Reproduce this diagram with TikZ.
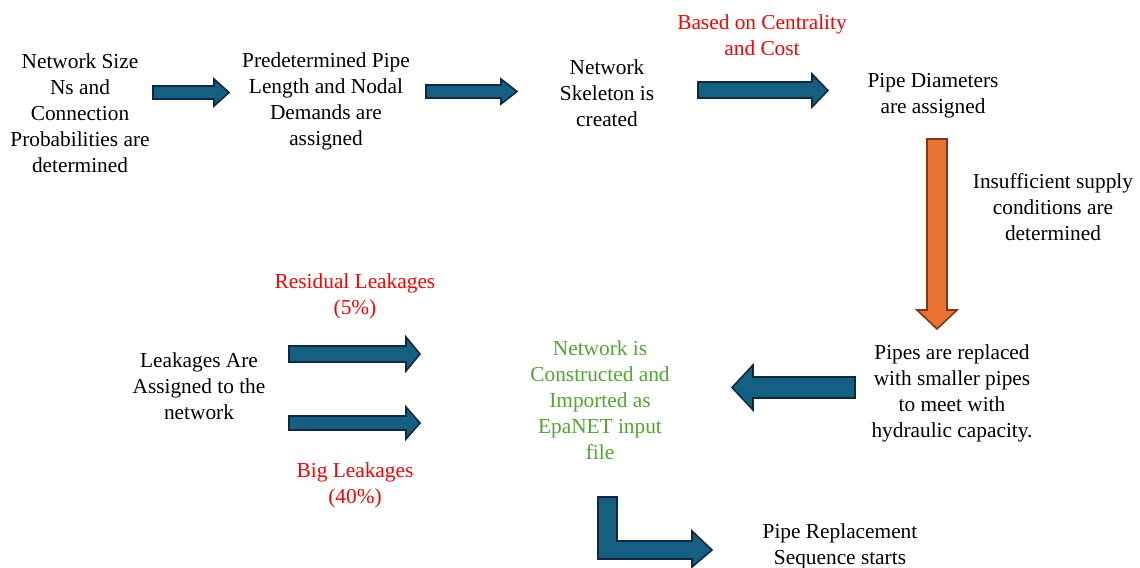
\documentclass[tikz,border=0pt]{standalone}
\usepackage{fontspec}
\setmainfont{Liberation Serif}
\definecolor{arrowblue}{HTML}{156082}
\definecolor{arrowedge}{HTML}{0E2841}
\definecolor{arroworange}{HTML}{E97132}
\definecolor{orangeedge}{HTML}{7A3A12}
\definecolor{noteRed}{HTML}{FF0000}
\definecolor{noteGreen}{HTML}{4EA72E}
\tikzset{
  txt/.style={align=center, inner sep=0pt, font=\fontsize{16}{19.5}\selectfont},
  bluearrow/.style={fill=arrowblue, draw=arrowedge, line width=1.2pt, line join=miter},
  orangearrow/.style={fill=arroworange, draw=orangeedge, line width=1.2pt, line join=miter}
}
\begin{document}
\begin{tikzpicture}[x=0.75pt, y=-0.75pt]
\useasboundingbox (0,0) rectangle (1140,568);

% ---- text blocks ----
\node[txt] (size) at (80,113) {Network Size\\Ns and\\Connection\\Probabilities are\\determined};
\node[txt] (len) at (326,101.5) {Predetermined Pipe\\Length and Nodal\\Demands are\\assigned};
\node[txt] (skel) at (607,93) {Network\\Skeleton is\\created};
\node[txt, text=noteRed] (cent) at (762,35) {Based on Centrality\\and Cost};
\node[txt] (diam) at (933,95.5) {Pipe Diameters\\are assigned};
\node[txt] (insuf) at (1053,207) {Insufficient supply\\conditions are\\determined};
\node[txt, text=noteRed] (resid) at (355,296) {Residual Leakages\\(5\%)};
\node[txt] (leak) at (199,386) {Leakages Are\\Assigned to the\\network};
\node[txt, text=noteGreen] (net) at (600,400) {Network is\\Constructed and\\Imported as\\EpaNET input\\file};
\node[txt] (repl) at (952,393) {Pipes are replaced\\with smaller pipes\\to meet with\\hydraulic capacity.};
\node[txt, text=noteRed] (big) at (355,485.5) {Big Leakages\\(40\%)};
\node[txt] (seq) at (840,546.5) {Pipe Replacement\\Sequence starts};

% ---- block arrows (top row) ----
\draw[bluearrow] (153,86) -- (214,86) -- (214,79) -- (229,92.5) -- (214,106) -- (214,99) -- (153,99) -- cycle;
\draw[bluearrow] (426,85) -- (501,85) -- (501,79) -- (517,91.5) -- (501,104) -- (501,98) -- (426,98) -- cycle;
\draw[bluearrow] (698,82) -- (812,82) -- (812,74) -- (828,90.5) -- (812,107) -- (812,98) -- (698,98) -- cycle;

% ---- downward orange arrow ----
\draw[orangearrow] (927,139) -- (947,139) -- (947,310) -- (957,310) -- (937,329) -- (917,310) -- (927,310) -- cycle;

% ---- leftward arrow ----
\draw[bluearrow] (855,377) -- (753,377) -- (753,365) -- (732,387.5) -- (753,410) -- (753,398) -- (855,398) -- cycle;

% ---- leakage arrows ----
\draw[bluearrow] (289,346) -- (406,346) -- (406,337) -- (420,354) -- (406,371) -- (406,362) -- (289,362) -- cycle;
\draw[bluearrow] (289,416) -- (406,416) -- (406,407) -- (420,423) -- (406,439) -- (406,430) -- (289,430) -- cycle;

% ---- bent arrow ----
\draw[bluearrow] (598,497) -- (617,497) -- (617,541) -- (692,541) -- (692,531) -- (712,550) -- (692,567) -- (692,559) -- (598,559) -- cycle;
\end{tikzpicture}
\end{document}
